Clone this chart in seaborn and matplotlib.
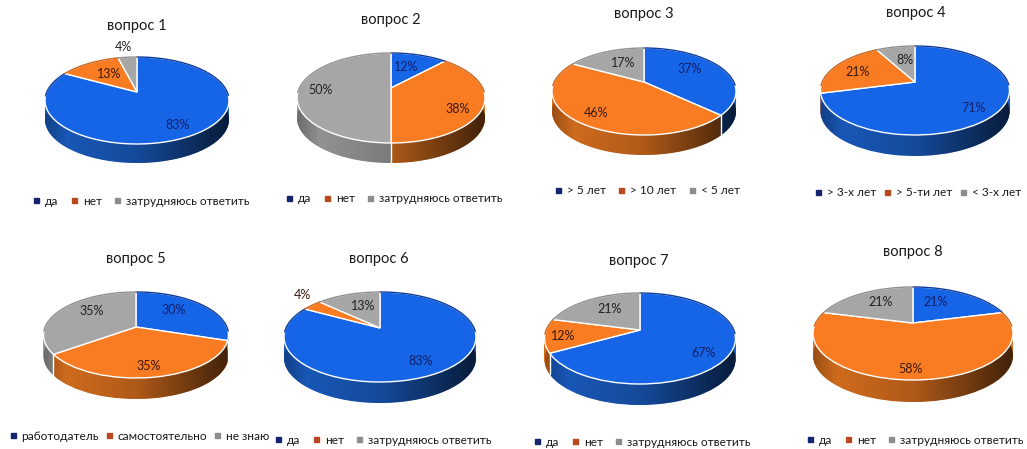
#eight 3d looking pies, one for each question of the survey
import matplotlib
matplotlib.use('Agg')
import matplotlib.pyplot as plt
import numpy as np
import seaborn as sns
from matplotlib.lines import Line2D
from matplotlib.path import Path
from matplotlib.transforms import Transform

titles = ['вопрос 1', 'вопрос 2', 'вопрос 3', 'вопрос 4',
          'вопрос 5', 'вопрос 6', 'вопрос 7', 'вопрос 8']
answers_yes = ['да', 'нет', 'затрудняюсь ответить']
answers_q3 = ['> 5 лет', '> 10 лет', '< 5 лет']
answers_q4 = ['> 3-х лет', '> 5-ти лет', '< 3-х лет']
answers_q5 = ['работодатель', 'самостоятельно', 'не знаю']
answers = [answers_yes, answers_yes, answers_q3, answers_q4,
           answers_q5, answers_yes, answers_yes, answers_yes]
q1 = [83, 13, 4]
q2 = [12, 38, 50]
q3 = [37, 46, 17]
q4 = [71, 21, 8]
q5 = [30, 35, 35]
q6 = [83, 4, 13]
q7 = [67, 12, 21]
q8 = [21, 58, 21]
values = [q1, q2, q3, q4, q5, q6, q7, q8]

W, H = 1027, 449
# layout in pixels: apex x, apex y, half width, apex to back, apex to front, depth
geom = [(137, 92, 92, 35, 52, 19), (391, 88, 94, 35, 55, 20),
        (644, 82, 92, 34, 53, 20), (915, 82, 94.5, 36, 53, 21),
        (136, 327, 92.5, 35, 51, 21), (380, 328, 96, 36, 54, 21),
        (640, 330, 95.5, 37, 54, 21), (913, 323, 100, 36, 57, 22)]
title_pos = [(137, 26), (391, 20), (644, 14), (916, 13),
             (136, 259), (379, 259), (639, 261), (913, 252)]
legend_pos = [(141, 201), (394, 199), (647, 191), (918, 193),
              (139, 436), (383, 440), (642, 442), (915, 440)]
legend_gap = [1.0, 1.0, 1.0, 0.6, 0.5, 1.0, 1.0, 1.0]
# label offsets from the apex, x to the right and y downwards
label_off = [[(41, 33), (-28, -18), (-14, -45)],
             [(15, -21), (67, 21), (-70, 2)],
             [(46, -13), (-48, 31), (-21, -19)],
             [(59, 26), (-57, -10), (-10, -22)],
             [(38, -17), (13, 39), (-44, -16)],
             [(41, 33), (-78, -33), (-17, -22)],
             [(64, 23), (-77, 6), (-30, -21)],
             [(23, -21), (-2, 46), (-32, -21)]]

sns.set_theme(style='white')
plt.rcParams['font.family'] = ['Lato', 'Noto Sans', 'DejaVu Sans']
top_colors = sns.color_palette(['#1565e6', '#f97b22', '#a6a6a6'])
rim_colors = sns.color_palette(['#1a5cc0', '#d9701f', '#999999'])
back_colors = sns.color_palette(['#0d3a99', '#c9651c', '#8f8f8f'])
key_colors = sns.color_palette(['#16246e', '#b8481d', '#8c8c8c'])
label_colors = ['#10206a', '#3a1a10', '#222222']
text_color = '#1a1a1a'


class Persp(Transform):
    # unit circle to a tilted disc, the apex stays at 0,0 and drop moves it down
    input_dims = output_dims = 2

    def __init__(self, a, k, p, drop=0.0):
        super().__init__()
        self.a, self.k, self.p, self.drop = a, k, p, drop

    def transform_non_affine(self, xy):
        xy = np.asarray(xy, dtype=float)
        w = 1 + self.p * xy[:, 1]
        return np.column_stack([self.a * xy[:, 0] / w, self.k * xy[:, 1] / w - self.drop])


fig = plt.figure(figsize=(W / 100, H / 100), dpi=100)

shade = np.zeros((1, 256, 4))
shade[0, :, 3] = np.interp(np.linspace(0, 1, 256), [0, 0.12, 0.5, 0.85, 1], [0.3, 0.05, 0.2, 0.55, 0.7])

for i in range(8):
    cx, cy, rx, back, front, depth = geom[i]
    ax = fig.add_axes([(cx - 135) / W, 1 - (cy + 105) / H, 270 / W, 210 / H])
    p = (front - back) / (front + back)
    k = 2 * back * front / (front + back)
    a = rx * np.sqrt(1 - p ** 2)
    persp = Persp(a, k, p)

    # the rim is the same pie stacked downwards, no edges or the seaborn white ones pile up
    for d in np.arange(depth, 0, -0.5):
        wedges, _ = ax.pie(values[i], colors=rim_colors, startangle=90, counterclock=False,
                           wedgeprops={'edgecolor': 'none', 'linewidth': 0})
        for w in wedges:
            w.set_transform(Persp(a, k, p, float(d)) + ax.transData)
            w.set_zorder(1)

    t = np.linspace(0, np.pi, 120)
    xb, yb = persp.transform_non_affine(np.column_stack([np.cos(t), np.sin(t)])).T
    xf, yf = persp.transform_non_affine(np.column_stack([np.cos(t + np.pi), np.sin(t + np.pi)])).T
    outline = np.column_stack([np.r_[xb, xf], np.r_[yb, yf - depth]])
    im = ax.imshow(shade, extent=(-rx, rx, -front - depth, back), aspect='auto', zorder=2)
    im.set_clip_path(Path(outline), ax.transData)

    wedges, _ = ax.pie(values[i], colors=top_colors, startangle=90, counterclock=False,
                       wedgeprops={'edgecolor': 'white', 'linewidth': 1.0})
    for w in wedges:
        w.set_transform(persp + ax.transData)
        w.set_zorder(3)

    # white seam on the rim, dark thin edge along the back of the disc
    cum = np.r_[0, np.cumsum(values[i])] / np.sum(values[i]) * 2 * np.pi
    for ang in cum[1:]:
        ex, ey = np.sin(ang), np.cos(ang)
        if ey < -0.3:
            px, py = persp.transform_non_affine(np.array([[ex, ey]]))[0]
            ax.plot([px, px], [py, py - depth], color='white', lw=1.0, zorder=4)
    for j in range(3):
        arc = np.linspace(cum[j], cum[j + 1], 80)
        ex, ey = persp.transform_non_affine(np.column_stack([np.sin(arc), np.cos(arc)])).T
        ex[np.cos(arc) < -0.1] = np.nan
        ax.plot(ex, ey, color=back_colors[j], lw=1.0, zorder=4)

    ax.set_aspect('auto')
    ax.set_xlim(-135, 135)
    ax.set_ylim(-105, 105)

    for val, off, col in zip(values[i], label_off[i], label_colors):
        ax.annotate('%d%%' % val, xy=(0, 0), xytext=(off[0], -off[1]), textcoords='offset pixels',
                    ha='center', va='center', fontsize=9, color=col, zorder=6,
                    annotation_clip=False)

    fig.text(title_pos[i][0] / W, 1 - title_pos[i][1] / H, titles[i], ha='center', va='center',
             fontsize=10.5, color=text_color)

    handles = [Line2D([], [], ls='none', marker='s', ms=3.6, color=c) for c in key_colors]
    ax.legend(handles, answers[i], ncol=3, loc='center', frameon=False, fontsize=8.6,
              labelcolor=text_color, handlelength=0.6, handletextpad=0.45, columnspacing=legend_gap[i],
              borderpad=0, borderaxespad=0,
              bbox_to_anchor=(legend_pos[i][0] / W, 1 - legend_pos[i][1] / H),
              bbox_transform=fig.transFigure)

plt.savefig('out.png', dpi=100)
